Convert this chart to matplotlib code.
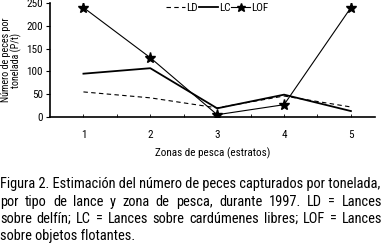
import matplotlib
matplotlib.use("Agg")
import matplotlib.pyplot as plt

plt.rcParams['font.family'] = ['Roboto Condensed', 'DejaVu Sans']

# data
zonas = [1, 2, 3, 4, 5]
ld = [55, 42, 20, 46, 22]
lc = [95, 107, 19, 49, 13]
lof = [240, 130, 5, 27, 240]
yticks = [0, 50, 100, 150, 200, 250]

caption = [
    "Figura 2. Estimación del número de peces capturados por tonelada,",
    "por tipo de lance y zona de pesca, durante 1997. LD = Lances",
    "sobre delfín; LC = Lances sobre cardúmenes libres; LOF = Lances",
    "sobre objetos flotantes.",
]

W, H = 384, 244
fig = plt.figure(figsize=(W / 100, H / 100), dpi=100)
ax = fig.add_axes([50 / W, 1 - 117 / H, 325 / W, 114 / H])

ax.plot(zonas, ld, color='black', lw=0.8, ls=(0, (4, 3)), label='LD')
ax.plot(zonas, lc, color='black', lw=1.3, label='LC')
ax.plot(zonas, lof, color='black', lw=0.8, marker='*', ms=8, label='LOF')

ax.set_xlim(0.5, 5.36)
ax.set_ylim(0, 250)
ax.set_xticks(zonas)
ax.set_xticks([z + 0.5 for z in zonas[:-1]], minor=True)
ax.set_yticks(yticks)
for s in ['top', 'right']:
    ax.spines[s].set_visible(False)
ax.spines['left'].set_linewidth(1.2)
ax.spines['bottom'].set_linewidth(1.2)
ax.tick_params(axis='y', labelsize=8, length=3, pad=2)
ax.tick_params(axis='x', which='both', labelsize=8, length=2, direction='in', width=0.6,
               pad=9)
ax.set_xlabel('Zonas de pesca (estratos)', fontsize=8, labelpad=6)
ax.set_ylabel('Número de peces por\ntonelada (P/t)', fontsize=7.2, linespacing=0.95)
ax.yaxis.set_label_coords(-0.085, 0.5)

ax.legend(loc='upper center', bbox_to_anchor=(0.515, 1.04), ncol=3, frameon=False,
          fontsize=8, handlelength=1.7, handletextpad=0.1, columnspacing=0.1,
          borderaxespad=0, markerscale=0.8)

fig.canvas.draw()
r = fig.canvas.get_renderer()

# caption size fitted so the first line fills the width
fs0 = 10
probe = fig.text(0, 0, caption[0], fontsize=fs0)
fs = fs0 * (W - 4) / probe.get_window_extent(r).width
probe.remove()

baselines = [188, 206, 223, 240]
for i, line in enumerate(caption):
    y = 1 - baselines[i] / H
    if i in (0, len(caption) - 1):
        fig.text(0, y, line, fontsize=fs, va='baseline', ha='left')
        continue
    words = line.split(' ')
    texts = [fig.text(0, y, w, fontsize=fs, va='baseline', ha='left') for w in words]
    widths = [t.get_window_extent(r).width for t in texts]
    gap = (W - 2 - sum(widths)) / (len(words) - 1)
    x = 0
    for t, w in zip(texts, widths):
        t.set_x(x / W)
        x += w + gap

fig.savefig('out.png', dpi=100)
